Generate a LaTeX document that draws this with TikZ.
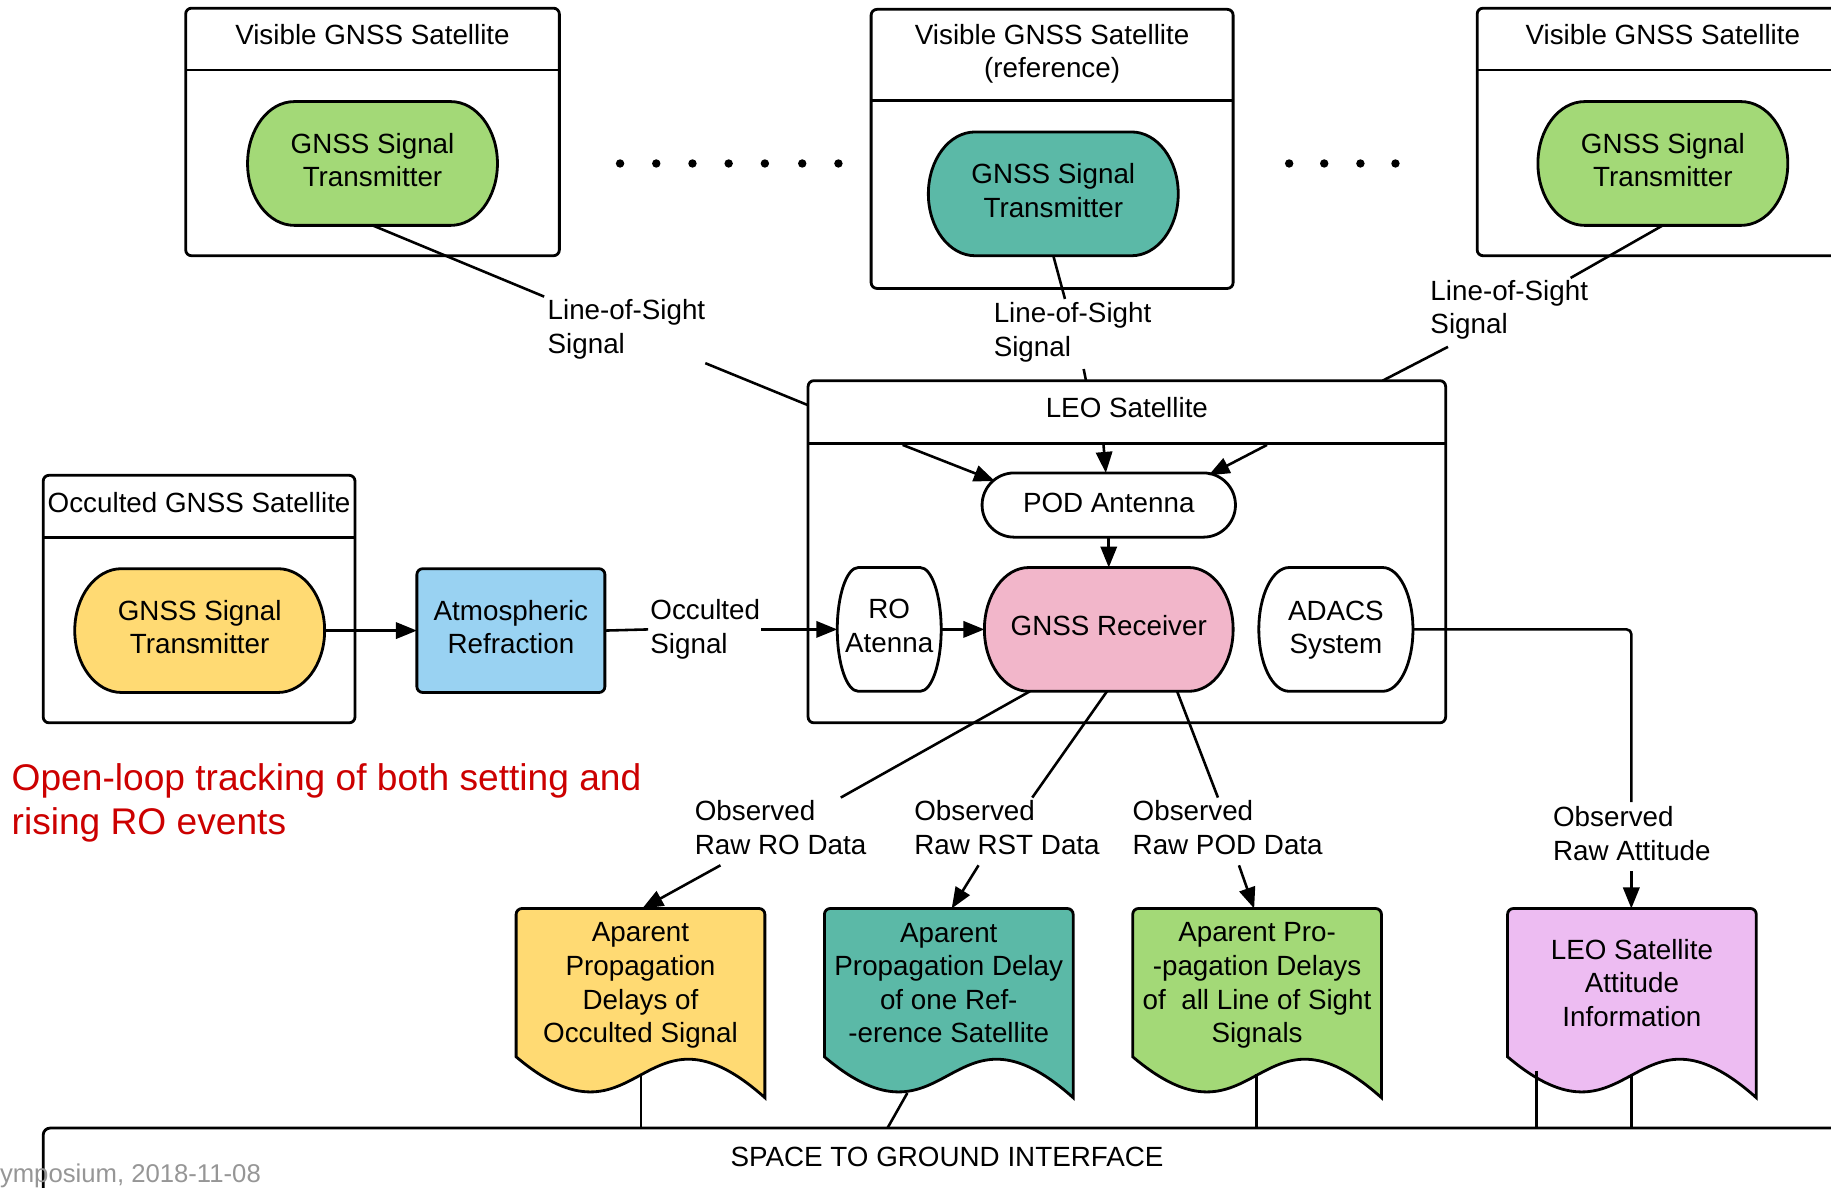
\documentclass[tikz,border=0pt]{standalone}
\usepackage{fontspec}
\setmainfont{Liberation Sans}
\usetikzlibrary{arrows.meta,calc}

\definecolor{txgreen}{RGB}{163,217,119}
\definecolor{txteal}{RGB}{91,185,167}
\definecolor{txyellow}{RGB}{255,218,115}
\definecolor{atmblue}{RGB}{153,210,242}
\definecolor{rxpink}{RGB}{242,182,202}
\definecolor{attviolet}{RGB}{237,188,242}
\definecolor{notered}{RGB}{204,0,0}
\definecolor{footgray}{RGB}{150,150,150}

\tikzset{
  every node/.style={font=\fontsize{23.8}{28.7}\selectfont, inner sep=0pt, outer sep=0pt},
  container/.style={draw, line width=2.4pt, rounded corners=5pt},
  divider/.style={line width=2.4pt},
  shapeline/.style={draw, line width=2.4pt},
  conn/.style={line width=2.2pt},
  arr/.style={conn, -{Triangle[length=18pt,width=14pt]}},
  lbl/.style={align=left, anchor=west},
  ctext/.style={align=center},
}

% terminator outline: centre x, centre y, width, height, end radius, fill
\newcommand\termpath[6]{%
  \path[shapeline, fill=#6] (#1-#3/2+#5,#2-#4/2) -- (#1+#3/2-#5,#2-#4/2)
    arc[start angle=90, end angle=-90, x radius=#5pt, y radius=#4pt/2]
    -- (#1-#3/2+#5,#2+#4/2)
    arc[start angle=270, end angle=90, x radius=#5pt, y radius=#4pt/2] -- cycle;}

% document outline with wavy bottom: left x, fill
\newcommand\docpath[2]{%
  \path[shapeline, fill=#2] (#1,905) [rounded corners=5pt] -- (#1,778) -- (#1+213,778)
    [sharp corners] -- (#1+213,940)
    .. controls (#1+106.5,845) and (#1+106.5,995) .. (#1,905) -- cycle;}

\begin{document}
\begin{tikzpicture}[x=1pt,y=-1pt]
\useasboundingbox (0,0) rectangle (1568,1017);
\clip (0,0) rectangle (1568,1017);
\fill[white] (0,0) rectangle (1568,1017);

% ---------- satellite containers ----------
\node[container, minimum width=320pt, minimum height=212pt] (vs1) at (319,113) {};
\draw[divider] ($(vs1.north west)+(0,53)$) -- ($(vs1.north east)+(0,53)$);
\node (vs1t) at (319,30) {Visible GNSS Satellite};

\node[container, minimum width=310pt, minimum height=239pt] (vs2) at (901,127.5) {};
\draw[divider] ($(vs2.north west)+(0,78)$) -- ($(vs2.north east)+(0,78)$);
\node[ctext] (vs2t) at (901,46) {Visible GNSS Satellite\\(reference)};

\node[container, minimum width=316pt, minimum height=212pt] (vs3) at (1423,113) {};
\draw[divider] ($(vs3.north west)+(0,53)$) -- ($(vs3.north east)+(0,53)$);
\node (vs3t) at (1424,30) {Visible GNSS Satellite};

\node[container, minimum width=267pt, minimum height=212pt] (occ) at (170.5,513) {};
\draw[divider] ($(occ.north west)+(0,53)$) -- ($(occ.north east)+(0,53)$);
\node (occt) at (170.5,430) {Occulted GNSS Satellite};

\node[container, minimum width=546pt, minimum height=293pt] (leo) at (965,472.5) {};
\draw[divider] ($(leo.north west)+(0,54)$) -- ($(leo.north east)+(0,54)$);
\node (leot) at (965,349) {LEO Satellite};

% ---------- transmitters ----------
\termpath{319}{140}{214}{106}{40}{txgreen}
\node[ctext, minimum width=214pt, minimum height=106pt] (tx1) at (319,140) {};
\node[ctext] (tx1t) at (319,137) {GNSS Signal\\Transmitter};
\termpath{902}{166}{214}{106}{40}{txteal}
\node[ctext, minimum width=214pt, minimum height=106pt] (tx2) at (902,166) {};
\node[ctext] (tx2t) at (902,163) {GNSS Signal\\Transmitter};
\termpath{1424}{140}{214}{106}{40}{txgreen}
\node[ctext, minimum width=214pt, minimum height=106pt] (tx3) at (1424,140) {};
\node[ctext] (tx3t) at (1424,137) {GNSS Signal\\Transmitter};
\termpath{171}{540}{214}{106}{40}{txyellow}
\node[ctext, minimum width=214pt, minimum height=106pt] (txo) at (171,540) {};
\node[ctext] (txot) at (171,537) {GNSS Signal\\Transmitter};

% dots between visible satellites
\foreach \x in {531,562,593,624,655,687,718} \fill (\x,140) circle[radius=3.6pt];
\foreach \x in {1104,1134,1165,1195} \fill (\x,140) circle[radius=3.6pt];

% ---------- refraction ----------
\node[shapeline, fill=atmblue, rounded corners=5pt, minimum width=161pt, minimum height=106pt] (atm) at (437.5,540) {};
\node[ctext] (atmt) at (437.5,537) {Atmospheric\\Refraction};

% ---------- LEO payload ----------
\termpath{949.5}{432.5}{217}{55}{27.5}{white}
\node[minimum width=217pt, minimum height=55pt] (pod) at (949.5,432.5) {};
\node (podt) at (949.5,430.5) {POD Antenna};
\termpath{761.5}{539}{89}{106}{18}{white}
\node[minimum width=89pt, minimum height=106pt] (ro) at (761.5,539) {};
\node[ctext] (rot) at (761.5,536) {RO\\Atenna};
\termpath{949.5}{539}{213}{106}{38}{rxpink}
\node[minimum width=213pt, minimum height=106pt] (rx) at (949.5,539) {};
\node (rxt) at (949.5,536) {GNSS Receiver};
\termpath{1144}{539}{132}{106}{26}{white}
\node[minimum width=132pt, minimum height=106pt] (adacs) at (1144,539) {};
\node[ctext] (adacst) at (1144,539.5) {ADACS\\System};

% ---------- data products ----------
\docpath{442}{txyellow}
\node[ctext] (docA) at (548.5,844) {Aparent\\Propagation\\Delays of\\Occulted Signal};
\docpath{706}{txteal}
\node[ctext] (docB) at (812.5,842) {Aparent\\Propagation Delay\\of one Ref-\\-erence Satellite};
\docpath{970}{txgreen}
\node[ctext] (docC) at (1076.5,844) {Aparent Pro-\\-pagation Delays\\of\ \ all Line of Sight\\Signals};
\docpath{1291}{attviolet}
\node[ctext] (docD) at (1397.5,841.5) {LEO Satellite\\Attitude\\Information};

% ---------- labels ----------
\node[lbl] (los1) at (469,282) {Line-of-Sight\\Signal};
\node[lbl] (los2) at (851,284.5) {Line-of-Sight\\Signal};
\node[lbl] (los3) at (1225,265.5) {Line-of-Sight\\Signal};
\node[lbl] (occsig) at (557,539) {Occulted\\Signal};
\node[lbl] (obsRO) at (595,708.5) {Observed\\Raw RO Data};
\node[lbl] (obsRST) at (783,708.5) {Observed\\Raw RST Data};
\node[lbl] (obsPOD) at (970,708.5) {Observed\\Raw POD Data};
\node[lbl] (obsAtt) at (1330,714) {Observed\\Raw Attitude};

% ---------- connector end points ----------
\coordinate (s1a) at (466,254);
\coordinate (s1b) at (604,311);
\coordinate (s1c) at ($(leo.north west)+(0,21)$);
\coordinate (s2a) at (912,256);
\coordinate (s2b) at (928,316);
\coordinate (s2c) at (930,326);
\coordinate (s3a) at (1345,238);
\coordinate (s3b) at (1240,297);
\coordinate (s3c) at (1184,326);
\coordinate (p1a) at (773,381);
\coordinate (p1b) at (852,412);
\coordinate (p2a) at (945,381);
\coordinate (p2b) at (947,405);
\coordinate (p3a) at (1085,381);
\coordinate (p3b) at (1035,407);
\coordinate (o1) at (555,539);
\coordinate (o2) at (652,539);
\coordinate (r1a) at (720,683);
\coordinate (r1b) at (617,741);
\coordinate (dA) at (550,778);
\coordinate (r2a) at (884,683);
\coordinate (r2b) at (838,741);
\coordinate (dB) at (815,778);
\coordinate (r3a) at (1043,683);
\coordinate (r3b) at (1061,741);
\coordinate (dC) at (1074,778);
\coordinate (a1) at (1397,539);
\coordinate (a2) at (1397,687);
\coordinate (a3) at (1397,746);
\coordinate (dD) at (1397,778);

% ---------- connectors ----------
\draw[conn] (tx1.south) -- (s1a);
\draw[conn] (s1b) -- (s1c);
\draw[conn] (tx2.south) -- (s2a);
\draw[conn] (s2b) -- (s2c);
\draw[conn] (tx3.south) -- (s3a);
\draw[conn] (s3b) -- (s3c);
\draw[arr] (p1a) -- (p1b);
\draw[arr] (p2a) -- (p2b);
\draw[arr] (p3a) -- (p3b);
\draw[arr] (pod.south) -- (rx.north);
\draw[arr] (ro.east) -- (rx.west);
\draw[arr] (txo.east) -- (atm.west);
\draw[conn] (atm.east) -- (o1);
\draw[arr] (o2) -- (ro.west);

\draw[conn] ($(rx.south)+(-67.5,0)$) -- (r1a);
\draw[arr] (r1b) -- (dA);
\draw[conn] ($(rx.south)+(-1.5,0)$) -- (r2a);
\draw[arr] (r2b) -- (dB);
\draw[conn] ($(rx.south)+(58.5,0)$) -- (r3a);
\draw[arr] (r3b) -- (dC);
\draw[conn, rounded corners=4pt] (adacs.east) -- (a1) -- (a2);
\draw[arr] (a3) -- (dD);

% ---------- space to ground interface ----------
\draw[divider, rounded corners=6pt] (37,1040) -- (37,966) -- (1600,966);
\node (sgi) at (811,991) {SPACE TO GROUND INTERFACE};
\coordinate (gA) at (549,966);
\coordinate (gB) at (760,966);
\coordinate (gC) at (1076,966);
\coordinate (gD1) at (1316,966);
\coordinate (gD2) at (1397,966);
\draw[conn] (549,920) -- (gA);
\draw[conn] (777,936) -- (gB);
\draw[conn] (1076,920) -- (gC);
\draw[conn] (1316,917) -- (gD1);
\draw[conn] (1397,921) -- (gD2);

% ---------- notes ----------
\node[anchor=west, align=left, text=notered, font=\fontsize{31.8}{37.5}\selectfont] (note) at (10,687.5) {Open-loop tracking of both setting and\\rising RO events};
\node[anchor=base west, text=footgray, font=\fontsize{22}{26}\selectfont] (foot) at (0,1013) {ymposium, 2018-11-08};
\end{tikzpicture}
\end{document}
